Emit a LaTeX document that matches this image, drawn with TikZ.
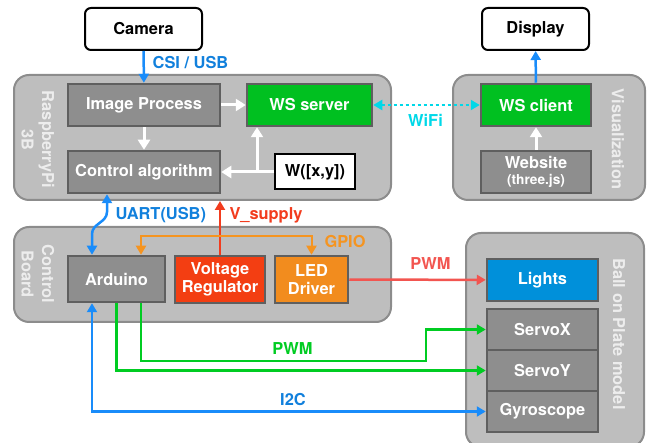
\documentclass[tikz,border=0pt]{standalone}
\usepackage{fontspec}
\setmainfont{TeX Gyre Heros}
\usetikzlibrary{arrows.meta}
\definecolor{grpfill}{RGB}{190,190,190}
\definecolor{grpline}{RGB}{140,140,140}
\definecolor{blkfill}{RGB}{142,142,142}
\definecolor{blkline}{RGB}{95,95,95}
\definecolor{wsgreen}{RGB}{0,192,32}
\definecolor{lightblue}{RGB}{0,144,218}
\definecolor{regred}{RGB}{243,62,18}
\definecolor{ledorange}{RGB}{242,140,30}
\definecolor{busblue}{RGB}{25,140,250}
\definecolor{lblblue}{RGB}{17,128,220}
\definecolor{supred}{RGB}{242,60,30}
\definecolor{pwmred}{RGB}{242,85,80}
\definecolor{pwmgreen}{RGB}{0,204,34}
\definecolor{wifi}{RGB}{0,216,232}
\definecolor{gpio}{RGB}{245,148,32}

\begin{document}
\begin{tikzpicture}[x=1pt, y=-1pt, font=\fontsize{16.4}{18.5}\selectfont\bfseries,
  grp/.style={draw=grpline, fill=grpfill, line width=2pt, rounded corners=15pt},
  grptxt/.style={rotate=-90, text=white!93!black, align=center, font=\fontsize{16.4}{20.5}\selectfont\bfseries},
  blk/.style={draw=blkline, fill=blkfill, line width=2.5pt, text=white, inner sep=0pt, align=center},
  ext/.style={draw=black, fill=white, line width=2pt, rounded corners=6pt, minimum height=42pt},
  link/.style={line width=2.5pt, -{Triangle[length=9pt,width=10pt]}},
  dlink/.style={line width=2.5pt, {Triangle[length=9pt,width=10pt]}-{Triangle[length=9pt,width=10pt]}},
  wlink/.style={line width=3pt, white, -{Triangle[length=10pt,width=12pt]}}]
  \useasboundingbox (0,0) rectangle (649,443);
  \clip (0,0) rectangle (649,443);
  % outside devices
  \node[ext, minimum width=117pt] (camera) at (143.5,29) {Camera};
  \node[ext, minimum width=107pt] (display) at (535.5,29) {Display};
  % groups
  \node[grp, minimum width=377pt, minimum height=125pt] (rpi) at (202.5,137.5) {};
  \node[grp, minimum width=192pt, minimum height=125pt] (vis) at (549,137.5) {};
  \node[grp, minimum width=377pt, minimum height=95pt] (ctrl) at (202.5,274.5) {};
  \node[grp, minimum width=178pt, minimum height=214pt] (bop) at (555,340) {};
  \node[grptxt] (rpitxt) at (38,139.5) {RaspberryPi\\3B};
  \node[grptxt] (ctrltxt) at (38,274) {Control\\Board};
  \node[grptxt] (vistxt) at (618,139) {Visualization};
  \node[grptxt] (boptxt) at (619,334) {Ball on Plate model};
  % raspberry pi
  \node[blk, minimum width=152pt, minimum height=42pt] (imgproc) at (144,105) {Image Process};
  \node[blk, fill=wsgreen, minimum width=125pt, minimum height=42pt] (wsserver) at (309.5,105) {WS server};
  \node[blk, minimum width=152pt, minimum height=42pt] (ctrlalg) at (144,172) {Control algorithm};
  \node[draw=black, fill=white, line width=2pt, minimum width=80pt, minimum height=35pt, inner sep=0pt] (wxy) at (315,172) {W([x,y])};
  % visualization
  \node[blk, fill=wsgreen, minimum width=110pt, minimum height=42pt] (wsclient) at (536,105) {WS client};
  \node[blk, minimum width=110pt, minimum height=42pt] (website) at (536,172) {Website\\[-2pt]{\fontsize{13.7}{15}\selectfont(three.js)}};
  % control board
  \node[blk, minimum width=97pt, minimum height=46pt] (arduino) at (116.5,279) {Arduino};
  \node[blk, fill=regred, minimum width=90pt, minimum height=47pt] (vreg) at (220,279.5) {Voltage\\Regulator};
  \node[blk, fill=ledorange, minimum width=73pt, minimum height=47pt] (leddrv) at (311.5,279.5) {LED\\Driver};
  % ball on plate
  \node[blk, fill=lightblue, minimum width=111pt, minimum height=42pt] (lights) at (542.5,280) {Lights};
  \foreach \n/\t [count=\k] in {servox/ServoX, servoy/ServoY, gyro/Gyroscope}
    \node[blk, minimum width=111pt, minimum height=41pt] (\n) at (542.5,288.5+41*\k) {\t};

  % connectors
  \draw[link, busblue] (camera) -- (imgproc);
  \node[text=lblblue] (csi) at (190.5,63) {CSI / USB};
  \draw[wlink] (imgproc) -- (wsserver);
  \draw[wlink] (imgproc) -- (ctrlalg);
  \draw[wlink] (wxy) -- (ctrlalg);
  \coordinate (wj) at (257,172);
  \draw[wlink] (wj) -- (wj |- wsserver.south);
  \draw[wlink] (website) -- (wsclient);
  \draw[link, busblue] (wsclient) -- (display);
  \draw[wifi, line width=2.5pt, dash pattern=on 3pt off 3pt, {Triangle[length=9pt,width=10pt]}-{Triangle[length=9pt,width=10pt]}] (wsserver) -- (wsclient);
  \node[text=wifi] (wifitxt) at (425.5,120) {WiFi};
  % uart
  \draw[dlink, busblue] ([xshift=-37pt]ctrlalg.south) -- (107,212) to[out=-90,in=90] (92,234) -- ([xshift=-24.5pt]arduino.north);
  \node[text=lblblue, anchor=west] (uart) at (112,215) {UART(USB)};
  \draw[link, supred] (vreg) -- (vreg |- rpi.south);
  \node[text=supred, anchor=west] (vsup) at (226,215) {V\_supply};
  % gpio
  \draw[dlink, gpio, line width=2pt] ([xshift=24.5pt]arduino.north) |- (311.5,236) -- (leddrv.north);
  \node[text=gpio, anchor=west] (gpiotxt) at (321,242) {GPIO};
  \draw[link, pwmred] (leddrv) -- (lights);
  \node[text=pwmred] (pwmled) at (430.5,264) {PWM};
  % servos and gyro
  \draw[link, pwmgreen] ([xshift=24.5pt]arduino.south) |- (426,361) |- (servox.west);
  \draw[link, pwmgreen] (arduino.south) |- (servoy.west);
  \node[text=pwmgreen] (pwmservo) at (292.5,349) {PWM};
  \draw[dlink, busblue] ([xshift=-24.5pt]arduino.south) |- (gyro.west);
  \node[text=lblblue] (i2c) at (293,400) {I2C};
\end{tikzpicture}
\end{document}
